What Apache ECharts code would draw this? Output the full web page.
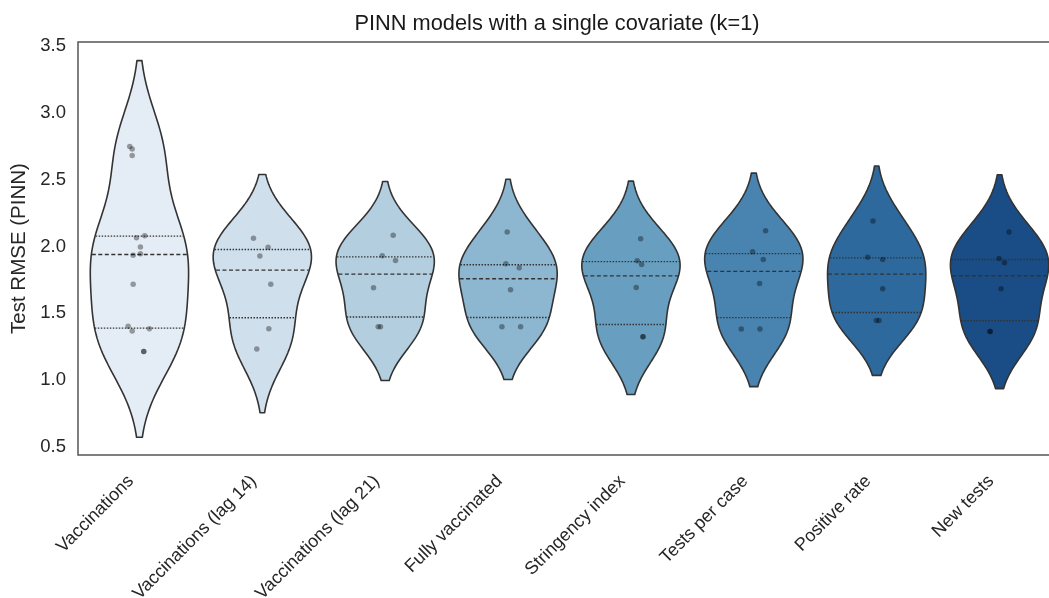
<!DOCTYPE html>
<html>
<head>
<meta charset="utf-8">
<script src="https://cdn.jsdelivr.net/npm/echarts@6/dist/echarts.min.js"></script>
<style>
html,body{margin:0;padding:0;background:#fff;}
#chart{width:1049px;height:598px;}
</style>
</head>
<body>
<div id="chart"></div>
<script>
// ---- data ----
const categories = ["Vaccinations","Vaccinations (lag 14)","Vaccinations (lag 21)","Fully vaccinated","Stringency index","Tests per case","Positive rate","New tests"];

const vaccinations      = [2.748,2.730,2.680,2.081,2.066,1.996,1.946,1.934,1.717,1.404,1.384,1.367,1.215,1.215];
const vaccinationsLag14 = [2.061,1.994,1.929,1.717,1.384,1.234];
const vaccinationsLag21 = [2.084,1.931,1.896,1.691,1.399,1.399];
const fullyVaccinated   = [2.109,1.871,1.841,1.676,1.399,1.399];
const stringencyIndex   = [2.058,1.894,1.866,1.694,1.324,1.324];
const testsPerCase      = [2.118,1.961,1.903,1.724,1.382,1.382];
const positiveRate      = [2.191,1.919,1.903,1.684,1.447,1.447];
const newTests          = [2.109,1.911,1.878,1.684,1.364,1.364];

// strip-plot jitter (fraction of a category band)
const jitterVaccinations      = [-0.079,-0.059,-0.059,0.043,-0.024,0.008,0.008,-0.051,-0.051,-0.092,0.081,-0.059,0.035,0.035];
const jitterVaccinationsLag14 = [-0.072,0.047,-0.020,0.069,0.053,-0.045];
const jitterVaccinationsLag21 = [0.065,-0.024,0.084,-0.095,-0.057,-0.038];
const jitterFullyVaccinated   = [-0.007,-0.018,0.091,0.020,-0.050,0.102];
const jitterStringencyIndex   = [0.079,0.051,0.087,0.043,0.098,0.098];
const jitterTestsPerCase      = [0.096,-0.010,0.077,0.047,-0.102,0.050];
const jitterPositiveRate      = [-0.030,-0.073,0.049,0.049,-0.003,0.019];
const jitterNewTests          = [0.077,-0.004,0.040,0.012,-0.077,-0.077];

const yTicks = [0.5,1.0,1.5,2.0,2.5,3.0,3.5];

// ---- styling ----
const fillColors = ["#e4edf5","#d0dfec","#b2cedf","#8db7d0","#689fc0","#4884af","#2e699d","#1a4d85"];
const lineColor = "#333333";
const FONT = "'Liberation Sans', Arial, Helvetica, sans-serif";

const groups = [vaccinations,vaccinationsLag14,vaccinationsLag21,fullyVaccinated,stringencyIndex,testsPerCase,positiveRate,newTests];
const jitters = [jitterVaccinations,jitterVaccinationsLag14,jitterVaccinationsLag21,jitterFullyVaccinated,jitterStringencyIndex,jitterTestsPerCase,jitterPositiveRate,jitterNewTests];

// Gaussian KDE (Scott's rule, cut = 2), as seaborn's violinplot does
function kde(vals){
  const n = vals.length;
  const mean = vals.reduce((a,b)=>a+b,0)/n;
  const sd = Math.sqrt(vals.reduce((a,b)=>a+(b-mean)*(b-mean),0)/(n-1));
  const bw = sd*Math.pow(n,-0.2);
  const lo = Math.min(...vals)-2*bw, hi = Math.max(...vals)+2*bw;
  const G = 100, support = [], dens = [];
  for(let i=0;i<G;i++){
    const y = lo+(hi-lo)*i/(G-1);
    let s=0; for(const v of vals){ const z=(y-v)/bw; s+=Math.exp(-0.5*z*z); }
    support.push(y); dens.push(s);
  }
  const m = Math.max(...dens);
  return {support, dens: dens.map(d=>d/m)};
}
function quantile(vals,p){
  const s=[...vals].sort((a,b)=>a-b); const pos=(s.length-1)*p;
  const lo=Math.floor(pos), hi=Math.ceil(pos);
  return s[lo]+(s[hi]-s[lo])*(pos-lo);
}
const profiles = groups.map(kde);
const quarts = groups.map(g=>[quantile(g,0.25),quantile(g,0.5),quantile(g,0.75)]);
const HALF = 0.4;

function renderViolin(params, api){
  const i = params.dataIndex;
  const prof = profiles[i];
  const right=[], left=[];
  for(let k=0;k<prof.support.length;k++){
    right.push(api.coord([i+HALF*prof.dens[k], prof.support[k]]));
    left.push(api.coord([i-HALF*prof.dens[k], prof.support[k]]));
  }
  const pts = right.concat(left.reverse());
  const children = [{
    type:'polygon', shape:{points:pts},
    style:{fill:fillColors[i], stroke:lineColor, lineWidth:1.6, lineJoin:'round'}
  }];
  quarts[i].forEach((q,qi)=>{
    let idx=0, best=1e9;
    prof.support.forEach((s,k)=>{const d=Math.abs(s-q); if(d<best){best=d;idx=k;}});
    const w = HALF*prof.dens[idx]*0.99;
    const a = api.coord([i-w,q]), b = api.coord([i+w,q]);
    children.push({
      type:'line', shape:{x1:a[0],y1:a[1],x2:b[0],y2:b[1]},
      style:{stroke:lineColor, lineWidth:1.4, lineDash: qi===1?[4,2.5]:[1.5,1.5]}
    });
  });
  return {type:'group', children};
}

const scatterData = [];
groups.forEach((g,i)=>g.forEach((v,k)=>scatterData.push([i+jitters[i][k], v])));

const chart = echarts.init(document.getElementById('chart'), null, {renderer:'canvas'});
chart.setOption({
  animation:false,
  backgroundColor:'#ffffff',
  title:{
    text:'PINN models with a single covariate (k=1)',
    left:552, top:8, textAlign:'center',
    textStyle:{fontFamily:FONT, fontSize:21.8, fontWeight:'normal', color:'#1a1a1a'}
  },
  grid:{left:78, top:42, width:983, height:413, outerBoundsMode:'none', containLabel:false,
        show:true, borderColor:'#555', borderWidth:1.5, backgroundColor:'transparent'},
  xAxis:[
    {type:'category', data:categories, boundaryGap:true,
     axisLine:{show:false}, axisTick:{show:false}, splitLine:{show:false},
     axisLabel:{rotate:45, interval:0, margin:15, padding:[0,12,0,0], fontFamily:FONT, fontSize:18, color:'#262626'}},
    {type:'value', min:-0.5, max:7.5, show:false}
  ],
  yAxis:{
    type:'value', min:0.44, max:3.53,
    name:'Test RMSE (PINN)', nameLocation:'middle', nameGap:44,
    nameTextStyle:{fontFamily:FONT, fontSize:20.5, color:'#262626'},
    axisLine:{show:false}, axisTick:{show:false}, splitLine:{show:false},
    axisLabel:{customValues:yTicks, formatter:v=>Number(v).toFixed(1), margin:12, fontFamily:FONT, fontSize:18.5, color:'#262626'}
  },
  series:[
    {type:'custom', xAxisIndex:1, yAxisIndex:0, renderItem:renderViolin,
     data:groups.map((g,i)=>[i, quarts[i][1]]), encode:{x:0,y:1}, z:2, silent:true, clip:false},
    {type:'scatter', xAxisIndex:1, yAxisIndex:0, data:scatterData, symbolSize:5.5,
     itemStyle:{color:'rgba(0,0,0,0.45)'}, z:5, silent:true}
  ]
});
</script>
</body>
</html>
